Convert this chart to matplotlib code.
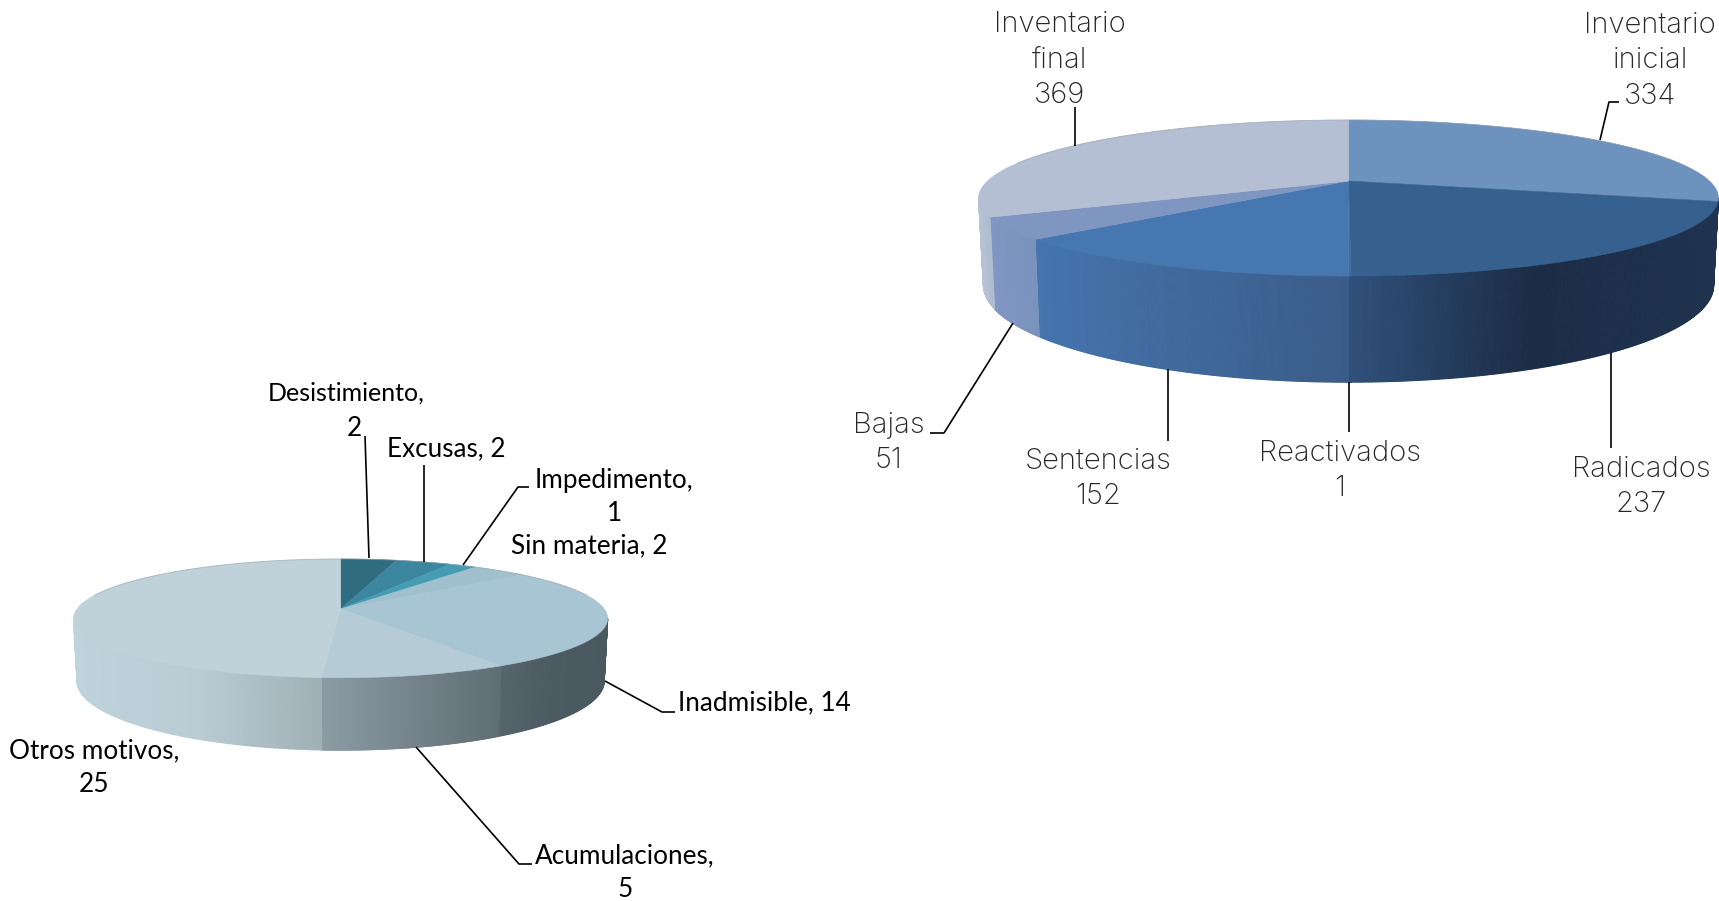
"""
Two tilted 3D pies: case movement and reasons for closure
"""
import numpy as np
import matplotlib
matplotlib.use('Agg')
import matplotlib.pyplot as plt
from matplotlib.collections import PolyCollection
from matplotlib.colors import LinearSegmentedColormap

# Left pie, clockwise from twelve o'clock
motivos = ['Desistimiento', 'Excusas', 'Impedimento', 'Sin materia',
           'Inadmisible', 'Acumulaciones', 'Otros motivos']
motivos_n = [2, 2, 1, 2, 14, 5, 25]

# Right pie, clockwise from twelve o'clock
movimiento = ['Inventario inicial', 'Radicados', 'Reactivados', 'Sentencias',
              'Bajas', 'Inventario final']
movimiento_n = [334, 237, 1, 152, 51, 369]

# Colours of the top faces and (left to right) gradient stops of the side walls
motivos_top = ['#2f6c80', '#3c86a0', '#459db4', '#a0c0ce', '#a7c5d2',
               '#b5cbd6', '#bfd2da']
motivos_wall = [['#2f4a55', '#2f4a55'], ['#35525e', '#35525e'],
                ['#3a5a66', '#3a5a66'], ['#4a5860', '#4a5860'],
                ['#56646c', '#4c5a62', '#4a5860'], ['#8c9ca5', '#5f6d74'],
                ['#bfd3dc', '#b9ccd4', '#a0b0b7']]
movimiento_top = ['#6c92bd', '#36618f', '#3f6c9e', '#4777b0', '#7f97c0',
                  '#b5bfd3']
movimiento_wall = [['#1b2d45', '#1b2d45'], ['#30507a', '#1b2c45', '#1f3350'],
                   ['#30507a', '#30507a'], ['#4574ae', '#3a5c88'],
                   ['#7f97c2', '#7a93bd'], ['#b7c2d4', '#aebcd0']]

LINE = '#000000'
FONT_LEFT = dict(family='Lato', fontsize=18.8, color='black')
FONT_RIGHT = dict(family='Inter', fontweight='light', fontsize=21,
                  color='#262626')


def rim(theta, geom, lower=False):
    "Project circle angles (clockwise from the back) onto the tilted pie"
    cx, cy, a, b, k, d = geom
    u, v = np.sin(theta), np.cos(theta)
    w = 1 + k*v
    if lower:
        return cx + 0.987*a*u/w, cy - b*v/w + d/w
    return cx + a*u/w, cy - b*v/w


def draw_pie(ax, values, tops, walls, geom):
    edges = np.cumsum([0] + list(values))/sum(values)*2*np.pi
    # walls first, the top face goes over them; only the part in front of
    # the widest point of the ellipse can be seen
    for i in range(len(values)):
        theta = np.linspace(edges[i], edges[i+1], 200)
        theta = theta[np.cos(theta) <= -geom[4]]
        if len(theta) < 2:
            continue
        xt, yt = rim(theta, geom)
        xb, yb = rim(theta, geom, lower=True)
        cmap = LinearSegmentedColormap.from_list('wall', walls[i])
        span = max(xt.max() - xt.min(), 1)
        quads, cols = [], []
        for j in range(len(theta) - 1):
            quads.append([(xt[j], yt[j]), (xt[j+1], yt[j+1]),
                          (xb[j+1], yb[j+1]), (xb[j], yb[j])])
            cols.append(cmap((xt[j] - xt.min())/span))
        ax.add_collection(PolyCollection(quads, facecolors=cols,
                                         edgecolors=cols, linewidths=0.8,
                                         zorder=2))
    for i in range(len(values)):
        theta = np.linspace(edges[i], edges[i+1], 200)
        x, y = rim(theta, geom)
        ax.fill(np.r_[geom[0], x], np.r_[geom[1], y], color=tops[i], lw=0.4,
                zorder=3)
    # soft grey line on the back rim
    theta = np.linspace(-np.pi*0.42, np.pi*0.42, 200)
    x, y = rim(theta, geom)
    ax.plot(x, y, color='#9a9ea2', lw=0.7, alpha=0.5, zorder=4)


fig = plt.figure(figsize=(17.19, 9.01), dpi=100)
ax = fig.add_axes([0, 0, 1, 1])
ax.set_xlim(0, 1719)
ax.set_ylim(901, 0)
ax.axis('off')

draw_pie(ax, motivos_n, motivos_top, motivos_wall,
         (340.6, 609, 263.7, 57.9, 0.1575, 61))
draw_pie(ax, movimiento_n, movimiento_top, movimiento_wall,
         (1348.5, 181, 361, 74.3, 0.218, 83))

# Leader lines
leaders = [
    [(365, 436), (369, 558)],
    [(424, 465), (424, 562)],
    [(529, 487), (518, 487), (463, 565)],
    [(605, 681), (662, 712), (675, 712)],
    [(416, 747), (519, 864), (532, 864)],
    [(1600, 140), (1609, 102), (1619, 102)],
    [(1075, 107), (1075, 146)],
    [(1013, 323), (944, 433), (930, 433)],
    [(1168, 369), (1168, 441)],
    [(1349, 382), (1349, 432)],
    [(1611, 353), (1611, 448)],
]
for pts in leaders:
    xs, ys = zip(*pts)
    ax.plot(xs, ys, color=LINE, lw=1.2, zorder=5, solid_capstyle='butt')

# Left labels
ax.text(346, 393, motivos[0] + ',', ha='center', va='center',
        **{**FONT_LEFT, 'fontsize': 18})
ax.text(354, 428, str(motivos_n[0]), ha='center', va='center', **FONT_LEFT)
left_pos = {1: (446, 449), 2: (614, 497), 3: (589, 546), 4: (764, 703),
            5: (625, 873), 6: (94, 768)}
left_wrap = {2, 5, 6}
for i, (x, y) in left_pos.items():
    sep = ',\n' if i in left_wrap else ', '
    ax.text(x, y, f'{motivos[i]}{sep}{motivos_n[i]}', ha='center', va='center',
            linespacing=1.42, **FONT_LEFT)

# Right labels
right_text = ['Inventario\ninicial', None, None, None, None,
              'Inventario\nfinal']
right_pos = [(1650, 61), (1641, 487), (1340, 471), (1098, 479), (889, 443),
             (1060, 60)]
for i, (x, y) in enumerate(right_pos):
    name = right_text[i] or movimiento[i]
    ax.text(x, y, f'{name}\n{movimiento_n[i]}', ha='center', va='center',
            linespacing=1.42, **FONT_RIGHT)

plt.savefig('out.png', dpi=100)
